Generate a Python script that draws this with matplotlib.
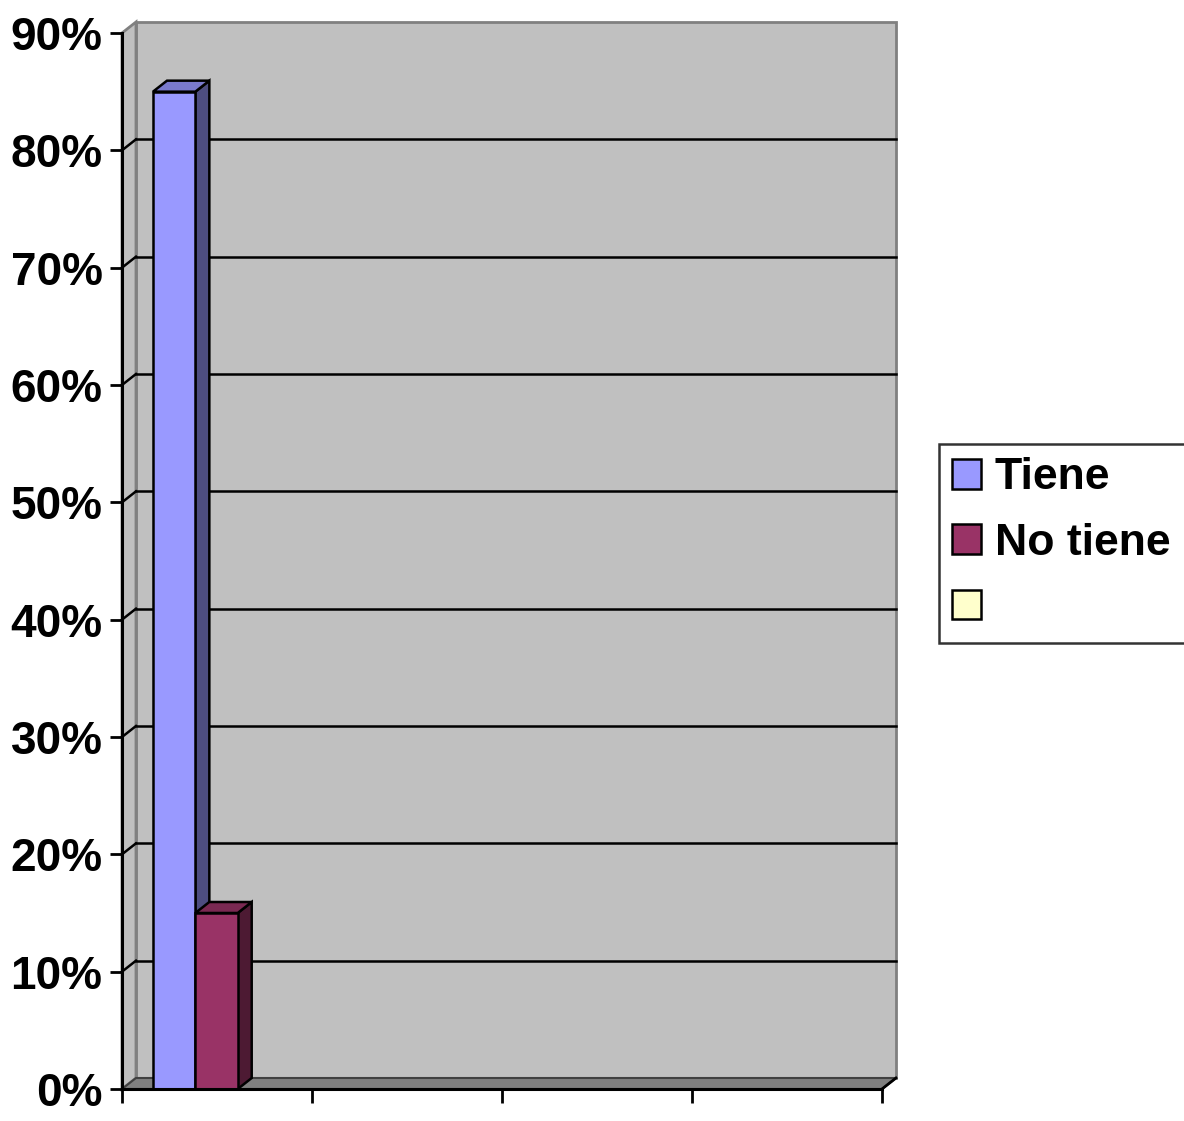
import numpy as np
import matplotlib
matplotlib.use("Agg")
import matplotlib.pyplot as plt
from matplotlib.patches import Polygon, Patch
from matplotlib.ticker import FuncFormatter

plt.rcParams['font.family'] = ['Liberation Sans', 'DejaVu Sans']
plt.rcParams['font.weight'] = 'bold'

# data
series = ['Tiene', 'No tiene', '']
values = [0.85, 0.15]
n_categories = 4
yticks = np.arange(0, 0.91, 0.1)

front_cols = ['#9999FF', '#993366', '#FFFFCC']
side_cols = ['#4D4D80', '#4D1A33']
top_cols = ['#7A7ACC', '#7A2952']

W, H = 1184, 1121
fig = plt.figure(figsize=(W / 100, H / 100), dpi=100)
ax = fig.add_axes([122 / W, (H - 1089) / H, 760 / W, 1056 / H])
ax.set_xlim(0, n_categories)
ax.set_ylim(0, 0.9)

# depth offset (data units)
dx = 14 / 190
dy = 0.011 / 1.173
ymax = 0.9

# walls
back = Polygon([(dx, dy), (n_categories + dx, dy), (n_categories + dx, ymax + dy), (dx, ymax + dy)],
               closed=True, facecolor='#C0C0C0', edgecolor='#808080', lw=2, clip_on=False, zorder=1)
ax.add_patch(back)
side = Polygon([(0, 0), (dx, dy), (dx, ymax + dy), (0, ymax)],
               closed=True, facecolor='#C0C0C0', edgecolor='#808080', lw=2, clip_on=False, zorder=1)
ax.add_patch(side)
floor = Polygon([(0, 0), (n_categories, 0), (n_categories + dx, dy), (dx, dy)],
                closed=True, facecolor='#808080', edgecolor='#404040', lw=1.5, clip_on=False, zorder=1)
ax.add_patch(floor)

# gridlines on back wall and side wall
for yv in yticks[1:-1]:
    ax.plot([dx, n_categories + dx], [yv + dy, yv + dy], color='black', lw=1.8, zorder=2, clip_on=False)
    ax.plot([0, dx], [yv, yv + dy], color='black', lw=1.8, zorder=2, clip_on=False)
ax.plot([n_categories, n_categories + dx], [0, dy], color='black', lw=2, zorder=2, clip_on=False)

# bars
bw = 0.223
group_center = 0.386
x0s = [group_center - bw + i * bw for i in range(len(values))]
bars = ax.bar(x0s, values, width=bw, align='edge', color=front_cols[:2],
              edgecolor='black', lw=1.8, zorder=3)
for i, (x0, h) in enumerate(zip(x0s, values)):
    x1 = x0 + bw
    ax.add_patch(Polygon([(x1, 0), (x1 + dx, dy), (x1 + dx, h + dy), (x1, h)], closed=True,
                         facecolor=side_cols[i], edgecolor='black', lw=1.8, zorder=3 + i * 0.1))
    ax.add_patch(Polygon([(x0, h), (x1, h), (x1 + dx, h + dy), (x0 + dx, h + dy)], closed=True,
                         facecolor=top_cols[i], edgecolor='black', lw=1.8, zorder=3 + i * 0.1))
    bars[i].set_zorder(3 + i * 0.1 + 0.05)

# axes
for s in ['top', 'right']:
    ax.spines[s].set_visible(False)
for s in ['left', 'bottom']:
    ax.spines[s].set_linewidth(2.2)
    ax.spines[s].set_zorder(5)
ax.set_facecolor('none')
ax.set_yticks(yticks)
ax.yaxis.set_major_formatter(FuncFormatter(lambda v, p: f'{v * 100:.0f}%'))
ax.set_xticks(np.arange(n_categories + 1))
ax.set_xticklabels([])
ax.tick_params(axis='y', length=9, width=2, pad=5, labelsize=33)
ax.tick_params(axis='x', length=10, width=2)
for lab in ax.get_yticklabels():
    lab.set_fontweight('bold')

# legend (runs past the right edge, as in the original)
handles = [Patch(facecolor=c, edgecolor='black', lw=1.8) for c in front_cols]
leg = fig.legend(handles, series, loc='upper left',
                 bbox_to_anchor=(939 / W, 0, 300 / W, 1 - 444 / H), mode='expand',
                 borderaxespad=0, frameon=True, fancybox=False,
                 handlelength=0.65, handleheight=0.65, handletextpad=0.3,
                 labelspacing=0.55, borderpad=0.3, prop={'weight': 'bold', 'size': 32})
leg.get_frame().set_edgecolor('black')
leg.get_frame().set_linewidth(1.8)

fig.savefig('out.png', dpi=100)
